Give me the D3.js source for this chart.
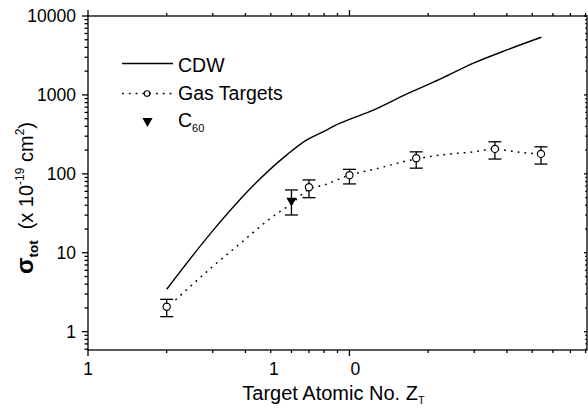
<!DOCTYPE html>
<html>
<head>
	<meta charset="utf-8">
	<title>Total cross section vs target Z</title>
	<style>
		body {
			margin: 0;
			background: #fff;
			font-family: "Liberation Sans", Arial, Helvetica, sans-serif;
		}
		svg { display: block; }
		.ax line, .ax path { stroke: #000; stroke-width: 1.3; fill: none; }
		.lbl { font-size: 17.5px; fill: #000; }
	</style>
</head>
<body>
	<div id="chart"></div>
	<script src="https://cdnjs.cloudflare.com/ajax/libs/d3/7.8.5/d3.min.js"></script>
	<script>
	// Data (Z, sigma in 1e-19 cm^2)
	var gasZ     = [2, 7, 10, 18, 36, 54]
	var gasSigma = [2.07, 67.6, 96.3, 158, 207, 179]
	var gasHi    = [2.57, 83.7, 114, 190, 255, 220]
	var gasLo    = [1.55, 49.9, 74.5, 118, 154, 133]

	var c60Z     = [6]
	var c60Sigma = [45.8]
	var c60Hi    = [62.5]
	var c60Lo    = [30.1]

	// CDW theory curve
	var cdwZ     = [2.0, 3.02, 4.43, 5.76, 6.87, 7.73, 9.2, 12.4, 16.6, 22.2, 29.8, 40, 54.2]
	var cdwSigma = [3.45, 19.5, 79.2, 174, 269, 327, 438, 645, 1030, 1581, 2522, 3718, 5385]

	// dotted fit through gas targets
	var fitZ     = [2.16, 2.94, 3.82, 4.98, 6.02, 7.0, 7.96, 10.0, 12.4, 16.6, 22.2, 29.8, 35.8, 44.9, 54.1]
	var fitSigma = [2.52, 6.32, 13.1, 27.2, 42.4, 64, 71.9, 96.3, 114, 146, 173, 190, 206, 187, 178]

	var xTickValues = [1, 5, 10]
	var xTickLabels = ["1", "1", "0"]
	var yTickValues = [1, 10, 100, 1000, 10000]

	var legendNames = ["CDW", "Gas Targets", "C"]

	// Layout
	var W = 588, H = 408
	var pLeft = 88, pRight = 587, pTop = 16, pBottom = 350

	var svg = d3.select("#chart").append("svg")
		.attr("width", W).attr("height", H)

	var x = d3.scaleLog().domain([1, 81]).range([pLeft, pRight])
	var y = d3.scaleLog().domain([0.586, 10000]).range([pBottom, pTop])

	var isMajor = function(v){
		var l = Math.log10(v)
		return Math.abs(l - Math.round(l)) < 1e-9
	}

	// Axes (drawn by hand so minor ticks can be shorter)
	var ax = svg.append("g").attr("class", "ax")
	ax.append("rect")
		.attr("x", pLeft).attr("y", pTop)
		.attr("width", pRight - pLeft).attr("height", pBottom - pTop)
		.attr("fill", "none").attr("stroke", "#000").attr("stroke-width", 1.3)

	x.ticks().forEach(function(v){
		var len = isMajor(v) ? 6 : 3
		var px = x(v)
		ax.append("line").attr("x1", px).attr("x2", px).attr("y1", pBottom).attr("y2", pBottom + len)
		ax.append("line").attr("x1", px).attr("x2", px).attr("y1", pTop).attr("y2", pTop - len)
	})
	y.ticks().forEach(function(v){
		var len = isMajor(v) ? 6 : 3.5
		var py = y(v)
		ax.append("line").attr("x1", pLeft).attr("x2", pLeft - len).attr("y1", py).attr("y2", py)
		ax.append("line").attr("x1", pRight).attr("x2", pRight - len / 2).attr("y1", py).attr("y2", py)
	})

	// Tick labels
	svg.selectAll(".ylbl").data(yTickValues).enter().append("text")
		.attr("class", "lbl")
		.attr("x", pLeft - 12)
		.attr("y", function(d){ return y(d) })
		.attr("dy", "0.36em")
		.attr("text-anchor", "end")
		.text(function(d){ return d })

	// the labels sit a little right of their ticks in the original
	svg.selectAll(".xlbl").data(xTickValues).enter().append("text")
		.attr("class", "lbl")
		.attr("x", function(d, i){ return x(d) + i * 3 })
		.attr("y", 375)
		.attr("text-anchor", "middle")
		.text(function(d, i){ return xTickLabels[i] })

	// Axis titles
	var xTitle = svg.append("text")
		.attr("x", (pLeft + pRight) / 2 - 4).attr("y", 400)
		.attr("text-anchor", "middle")
		.style("font-size", "20px")
	xTitle.append("tspan").text("Target Atomic No. Z")
	xTitle.append("tspan").text("T").style("font-size", "11px").attr("dy", 4)

	var yTitle = svg.append("text")
		.attr("transform", "translate(33,198) rotate(-90)")
		.attr("text-anchor", "middle")
		.style("font-size", "20px")
	yTitle.append("tspan").text("σ").style("font-weight", "bold").style("font-size", "24px")
	yTitle.append("tspan").text("tot").style("font-weight", "bold").style("font-size", "13.5px").attr("dy", 5)
	yTitle.append("tspan").text("(x 10").attr("dy", -5).attr("dx", 11)
	yTitle.append("tspan").text("-19").style("font-size", "12px").attr("dy", -9)
	yTitle.append("tspan").text(" cm").attr("dy", 9)
	yTitle.append("tspan").text("2").style("font-size", "12px").attr("dy", -9)
	yTitle.append("tspan").text(")").attr("dy", 9)

	// Lines
	var line = d3.line()
		.x(function(d){ return x(d[0]) })
		.y(function(d){ return y(d[1]) })
		.curve(d3.curveMonotoneX)

	svg.append("path")
		.datum(d3.zip(cdwZ, cdwSigma))
		.attr("d", line)
		.attr("fill", "none").attr("stroke", "#000").attr("stroke-width", 1.4)

	svg.append("path")
		.datum(d3.zip(fitZ, fitSigma))
		.attr("d", line)
		.attr("fill", "none").attr("stroke", "#000").attr("stroke-width", 1.5)
		.attr("stroke-dasharray", "1.8,5")

	// Error bars
	var capW = 6.5
	var drawErr = function(zs, los, his){
		var g = svg.append("g").attr("stroke", "#000").attr("stroke-width", 1.3)
		zs.forEach(function(z, i){
			var px = x(z)
			g.append("line").attr("x1", px).attr("x2", px).attr("y1", y(los[i])).attr("y2", y(his[i]))
			g.append("line").attr("x1", px - capW).attr("x2", px + capW).attr("y1", y(los[i])).attr("y2", y(los[i]))
			g.append("line").attr("x1", px - capW).attr("x2", px + capW).attr("y1", y(his[i])).attr("y2", y(his[i]))
		})
	}
	drawErr(gasZ, gasLo, gasHi)
	drawErr(c60Z, c60Lo, c60Hi)

	svg.selectAll(".gas").data(d3.zip(gasZ, gasSigma)).enter().append("circle")
		.attr("cx", function(d){ return x(d[0]) })
		.attr("cy", function(d){ return y(d[1]) })
		.attr("r", 3.6)
		.attr("fill", "#fff").attr("stroke", "#000").attr("stroke-width", 1.2)

	var tri = d3.symbol().type(d3.symbolTriangle).size(45)
	svg.selectAll(".c60").data(d3.zip(c60Z, c60Sigma)).enter().append("path")
		.attr("d", tri)
		.attr("transform", function(d){ return "translate(" + x(d[0]) + "," + y(d[1]) + ") rotate(180)" })
		.attr("fill", "#000")

	// Legend
	var lg = svg.append("g")
	lg.append("line").attr("x1", 122).attr("x2", 173).attr("y1", 63.5).attr("y2", 63.5)
		.attr("stroke", "#000").attr("stroke-width", 1.4)
	lg.append("line").attr("x1", 122).attr("x2", 172).attr("y1", 93.5).attr("y2", 93.5)
		.attr("stroke", "#000").attr("stroke-width", 1.5).attr("stroke-dasharray", "1.8,5")
	lg.append("circle").attr("cx", 147).attr("cy", 93.5).attr("r", 2.8)
		.attr("fill", "#fff").attr("stroke", "#000").attr("stroke-width", 1.1)
	lg.append("path").attr("d", tri)
		.attr("transform", "translate(147.5,121) rotate(180)").attr("fill", "#000")

	var lgY = [72, 100, 127]
	legendNames.forEach(function(name, i){
		var t = lg.append("text").attr("x", 178).attr("y", lgY[i]).style("font-size", "19.5px").text(name)
		if (i === 2) t.append("tspan").text("60").style("font-size", "11px").attr("dy", 5)
	})
	</script>
</body>
</html>
